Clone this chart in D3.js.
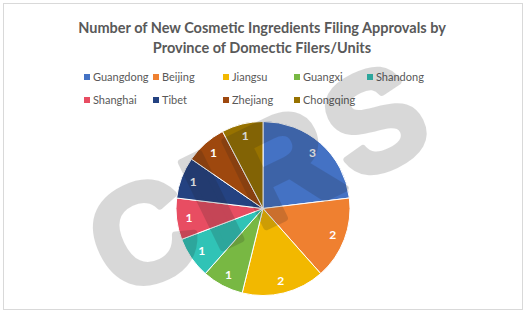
<!DOCTYPE html>
<html><head><meta charset="utf-8">
<script src="https://cdn.jsdelivr.net/npm/d3@7/dist/d3.min.js"></script>
<style>html,body{margin:0;padding:0;background:#fff;}svg{display:block;}</style>
</head><body>
<svg id="chart" width="527" height="314"></svg>
<script>
const titleLines = ["Number of New Cosmetic Ingredients Filing Approvals by", "Province of Domectic Filers/Units"];
const categories = ["Guangdong","Beijing","Jiangsu","Guangxi","Shandong","Shanghai","Tibet","Zhejiang","Chongqing"];
const values = [3,2,2,1,1,1,1,1,1];
const colors = ["#4472C4","#EF8030","#F2B800","#78B843","#30C3B6","#E84D62","#244281","#9E480E","#977200"];
const watermark = ["C","I","R","S"];

const svg = d3.select("#chart");
svg.append("rect").attr("x",3.5).attr("y",3.5).attr("width",519).attr("height",306)
  .attr("fill","#fff").attr("stroke","#d9d9d9").attr("stroke-width",1);

// title
const title = svg.append("text").attr("text-anchor","middle")
  .attr("font-family","Lato, 'Open Sans', sans-serif").attr("font-weight","bold")
  .attr("font-size",14.5).attr("fill","#595959");
titleLines.forEach((t,i)=>{
  title.append("tspan").attr("x",262).attr("y",32.5+i*20).text(t);
});

// legend
const colX = [84,153,223,294,367];
const legend = svg.append("g");
categories.forEach((c,i)=>{
  const row = Math.floor(i/5), col = i%5;
  const g = legend.append("g").attr("transform",`translate(${colX[col]},${77+row*23})`);
  g.append("rect").attr("x",0).attr("y",-3).attr("width",6).attr("height",6).attr("fill",colors[i]);
  g.append("text").attr("x",9).attr("y",0).attr("dy","0.36em")
    .attr("font-family","Lato, 'Open Sans', sans-serif").attr("font-size",11)
    .attr("fill","#595959").text(c);
});

// pie
const cx = 263, cy = 208.5, R = 87;
const pie = d3.pie().sort(null).value(d=>d)(values);
const arc = d3.arc().innerRadius(0).outerRadius(R);
const labelArc = d3.arc().innerRadius(74.5).outerRadius(74.5);
const pg = svg.append("g").attr("transform",`translate(${cx},${cy})`);
pg.selectAll("path").data(pie).join("path")
  .attr("d",arc).attr("fill",(d,i)=>colors[i])
  .attr("stroke","#fff").attr("stroke-width",1).attr("stroke-linejoin","round");
pg.selectAll("text").data(pie).join("text")
  .attr("transform",d=>`translate(${labelArc.centroid(d)})`)
  .attr("text-anchor","middle").attr("dy","0.36em")
  .attr("font-family","Lato, 'Open Sans', sans-serif").attr("font-weight","bold")
  .attr("font-size",12).attr("fill","#fff").text(d=>d.data);

// watermark (letters placed along a rotated baseline)
const wmOffsets = [-128,-52,27,130];
const wm = svg.append("g").attr("transform","translate(257,176) rotate(-26)")
  .attr("opacity",0.17).attr("pointer-events","none");
wm.selectAll("text").data(watermark).join("text")
  .attr("x",(d,i)=>wmOffsets[i]).attr("y",0).attr("dy","0.36em")
  .attr("text-anchor","middle")
  .attr("font-family","'Liberation Sans', Arial, sans-serif").attr("font-weight","bold")
  .attr("font-size",138).attr("fill","#1f1f1f")
  .attr("stroke","#1f1f1f").attr("stroke-width",7).attr("stroke-linejoin","round")
  .text(d=>d);
</script>
</body></html>
